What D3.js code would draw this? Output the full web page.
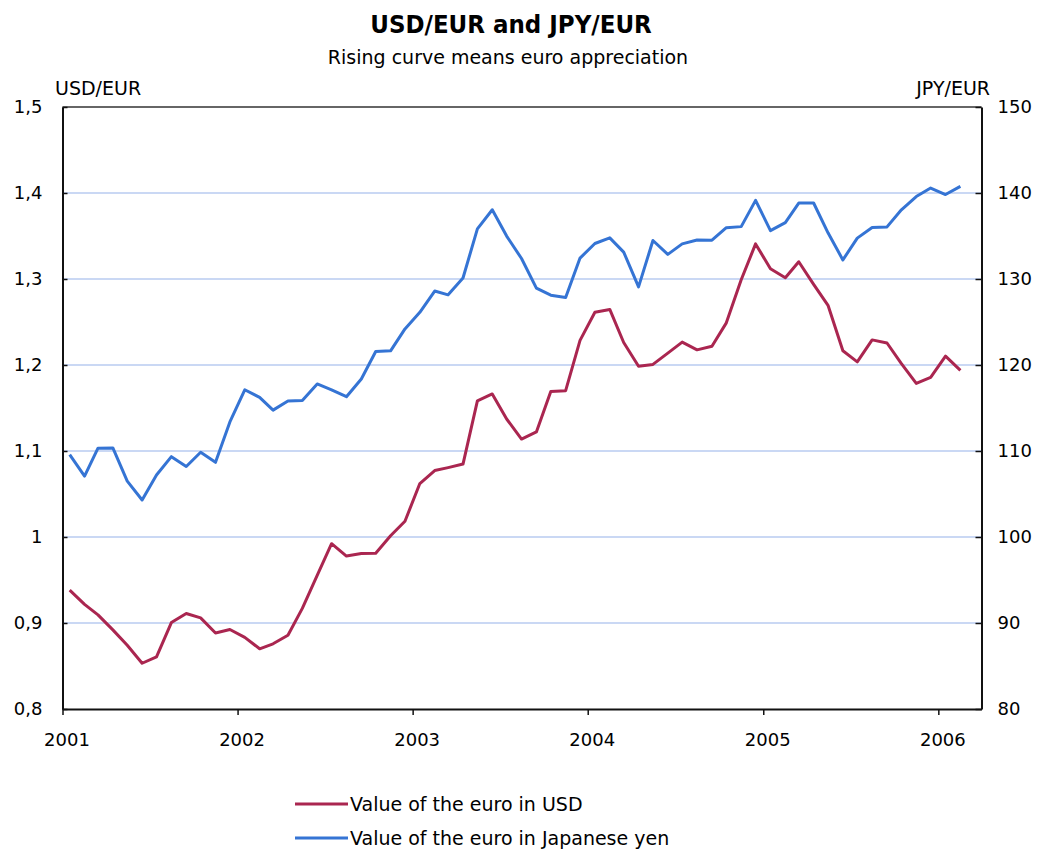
<!DOCTYPE html>
<html>
<head>
<meta charset="utf-8">
<script src="https://cdn.jsdelivr.net/npm/d3@7"></script>
<style>
  html, body { margin: 0; padding: 0; background: #fff; }
  svg { display: block; }
  text { font-family: "DejaVu Sans", Verdana, sans-serif; fill: #000; }
</style>
</head>
<body>
<svg id="chart" width="1037" height="852"></svg>
<script>
// ---- Data (monthly averages, Jan 2001 – Feb 2006) ----
const startMonth = new Date(2001, 0, 1);
const endMonth = new Date(2006, 2, 1); // exclusive -> last month Feb 2006
const months = d3.timeMonth.range(startMonth, endMonth);

const usdPerEur = [
  0.9383, 0.9217, 0.9095, 0.8920, 0.8742, 0.8532, 0.8607, 0.9005, 0.9111, 0.9059, 0.8883, 0.8924,
  0.8833, 0.8700, 0.8758, 0.8858, 0.9170, 0.9554, 0.9922, 0.9778, 0.9808, 0.9811, 1.0014, 1.0183,
  1.0622, 1.0773, 1.0807, 1.0848, 1.1582, 1.1663, 1.1372, 1.1139, 1.1222, 1.1692, 1.1702, 1.2286,
  1.2613, 1.2646, 1.2262, 1.1985, 1.2007, 1.2138, 1.2266, 1.2176, 1.2218, 1.2490, 1.2991, 1.3408,
  1.3119, 1.3014, 1.3201, 1.2938, 1.2694, 1.2165, 1.2037, 1.2292, 1.2256, 1.2015, 1.1786, 1.1856,
  1.2103, 1.1938
];

const jpyPerEur = [
  109.57, 107.08, 110.33, 110.36, 106.50, 104.30, 107.21, 109.34, 108.20, 109.86, 108.68, 113.38,
  117.12, 116.23, 114.75, 115.81, 115.86, 117.80, 117.11, 116.31, 118.38, 121.57, 121.65, 124.20,
  126.12, 128.60, 128.16, 130.12, 135.83, 138.05, 134.99, 132.38, 128.94, 128.12, 127.84, 132.43,
  134.13, 134.78, 133.13, 129.08, 134.48, 132.86, 134.08, 134.54, 134.51, 135.97, 136.09, 139.14,
  135.63, 136.55, 138.83, 138.84, 135.37, 132.22, 134.75, 135.98, 136.06, 138.05, 139.59, 140.58,
  139.82, 140.77
];

const usdTicks = [0.8, 0.9, 1.0, 1.1, 1.2, 1.3, 1.4, 1.5];
const usdTickLabels = ["0,8", "0,9", "1", "1,1", "1,2", "1,3", "1,4", "1,5"];
const jpyTicks = [80, 90, 100, 110, 120, 130, 140, 150];
const jpyTickLabels = ["80", "90", "100", "110", "120", "130", "140", "150"];
const yearTicks = [2001, 2002, 2003, 2004, 2005, 2006];

const seriesNames = ["Value of the euro in USD", "Value of the euro in Japanese yen"];
const seriesColors = ["#AA2650", "#3574D4"];

// ---- Layout ----
const svg = d3.select("#chart");
const plot = { left: 62.5, right: 981.5, top: 107, bottom: 709 };

const x = d3.scaleTime()
  .domain([new Date(2001, 0, 1), new Date(2006, 3, 1)])
  .range([plot.left, plot.right]);
const yL = d3.scaleLinear().domain([0.8, 1.5]).range([plot.bottom, plot.top]);
const yR = d3.scaleLinear().domain([80, 150]).range([plot.bottom, plot.top]);

const midMonth = d => d3.timeDay.offset(d, 15);

// gridlines
svg.append("g")
  .selectAll("line")
  .data(usdTicks.filter(t => t > 0.8 && t < 1.5))
  .join("line")
  .attr("x1", plot.left).attr("x2", plot.right)
  .attr("y1", d => yL(d)).attr("y2", d => yL(d))
  .attr("stroke", "#B8CBF1").attr("stroke-width", 1.5);

// top border
svg.append("line")
  .attr("x1", plot.left).attr("x2", plot.right)
  .attr("y1", plot.top).attr("y2", plot.top)
  .attr("stroke", "#333").attr("stroke-width", 1.5);

// axes
const axisStyle = g => {
  g.select(".domain").attr("stroke", "#111").attr("stroke-width", 2);
  g.selectAll(".tick line").attr("stroke", "#111").attr("stroke-width", 1.5);
  g.selectAll("text").attr("font-size", 18).attr("font-family", "DejaVu Sans, sans-serif").attr("fill", "#000");
};

svg.append("g")
  .attr("transform", `translate(${plot.left},0)`)
  .call(d3.axisLeft(yL).tickValues(usdTicks).tickFormat((d, i) => usdTickLabels[i])
    .tickSizeInner(-5).tickSizeOuter(0).tickPadding(20))
  .call(axisStyle);

svg.append("g")
  .attr("transform", `translate(${plot.right},0)`)
  .call(d3.axisRight(yR).tickValues(jpyTicks).tickFormat((d, i) => jpyTickLabels[i])
    .tickSizeInner(-6).tickSizeOuter(0).tickPadding(16))
  .call(axisStyle);

svg.append("g")
  .attr("transform", `translate(0,${plot.bottom})`)
  .call(d3.axisBottom(x).tickValues(yearTicks.map(yv => new Date(yv, 0, 1)))
    .tickFormat(d3.timeFormat("%Y")).tickSizeInner(6).tickSizeOuter(0).tickPadding(18))
  .call(axisStyle)
  .call(g => g.selectAll("text").attr("dx", 4));

// lines
const lineUsd = d3.line().x((d, i) => x(midMonth(months[i]))).y(d => yL(d));
const lineJpy = d3.line().x((d, i) => x(midMonth(months[i]))).y(d => yR(d));

svg.append("path").datum(jpyPerEur)
  .attr("d", lineJpy).attr("fill", "none")
  .attr("stroke", seriesColors[1]).attr("stroke-width", 3).attr("stroke-linejoin", "round");
svg.append("path").datum(usdPerEur)
  .attr("d", lineUsd).attr("fill", "none")
  .attr("stroke", seriesColors[0]).attr("stroke-width", 3).attr("stroke-linejoin", "round");

// titles
svg.append("text").attr("x", 511).attr("y", 33).attr("text-anchor", "middle")
  .attr("font-size", 23).attr("font-weight", "bold")
  .attr("transform", "translate(0,33) scale(1,1.1) translate(0,-33)")
  .text("USD/EUR and JPY/EUR");
svg.append("text").attr("x", 508).attr("y", 64).attr("text-anchor", "middle")
  .attr("font-size", 19).text("Rising curve means euro appreciation");

svg.append("text").attr("x", 55).attr("y", 95).attr("font-size", 19).text("USD/EUR");
svg.append("text").attr("x", 990).attr("y", 95).attr("text-anchor", "end").attr("font-size", 19).text("JPY/EUR");

// legend
const legend = svg.append("g");
const legendY = [804, 838];
seriesNames.forEach((name, i) => {
  legend.append("line")
    .attr("x1", 295).attr("x2", 348).attr("y1", legendY[i]).attr("y2", legendY[i])
    .attr("stroke", seriesColors[i]).attr("stroke-width", 3);
  legend.append("text")
    .attr("x", 350).attr("y", legendY[i] + 7).attr("font-size", 19).text(name);
});
</script>
</body>
</html>
